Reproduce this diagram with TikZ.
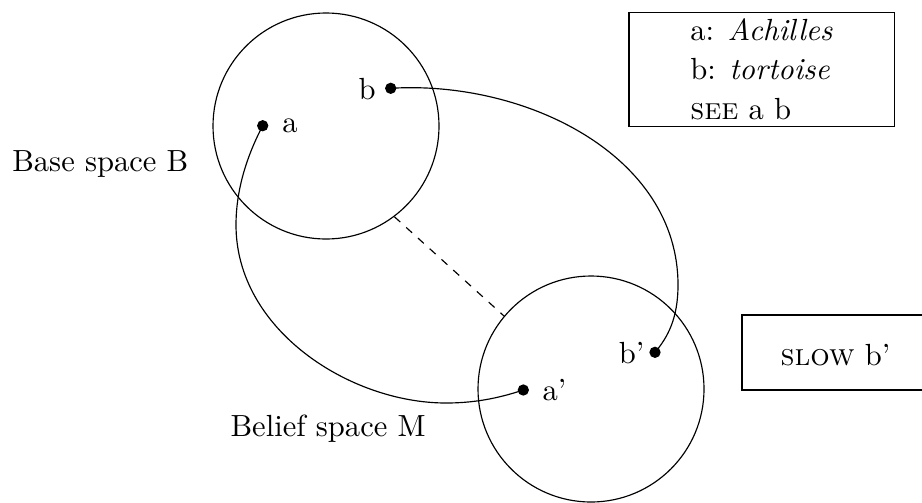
\documentclass[tikz,border=0pt]{standalone}
\begin{document}
\begin{tikzpicture}[x=0.327pt,y=-0.327pt,line width=0.38pt,
  space/.style={circle,draw,inner sep=0pt,minimum size=73.9pt},
  dotpt/.style={circle,fill,inner sep=0pt,minimum size=3.7pt},
  lbl/.style={inner sep=0pt,anchor=base west},
  dashline/.style={dash pattern=on 2.6pt off 2.6pt}]
\useasboundingbox (0,0) rectangle (922,502);
% spaces
\node[space] (B) at (326,126) {};
\node[space] (M) at (591,389) {};
\node[lbl] (Blabel) at (11.7,171.7) {Base space B};
\node[lbl] (Mlabel) at (230,436) {Belief space M};
% points
\node[dotpt] (a) at (262.7,125.7) {};
\node[dotpt] (b) at (390.7,88.3) {};
\node[dotpt] (ap) at (523.3,390) {};
\node[dotpt] (bp) at (655,352.3) {};
\node[lbl] (la) at (281.7,132.7) {a};
\node[lbl] (lb) at (358,99.3) {b};
\node[lbl] (lap) at (542,400) {a'};
\node[lbl] (lbp) at (618.3,363.3) {b'};
% connection lines
\coordinate (c1) at (236,225);
\coordinate (c2) at (446,403);
\coordinate (c3) at (678,285);
\draw (a.center) .. controls (250,150) and (236,185) .. (c1)
  .. controls (236,330) and (350,403) .. (c2)
  .. controls (480,403) and (505,396) .. (ap.center);
\draw (b.center) .. controls (525,80) and (678,155) .. (c3)
  .. controls (678,318) and (668,337) .. (bp.center);
\draw[dashline] (B.-53) -- (M.140);
% boxes
\node[draw,inner ysep=2pt,minimum width=86.7pt,minimum height=37.3pt,align=left] (legend) at (761.5,69.2)
  {a: \textit{Achilles}\\[0.8pt] b: \textit{tortoise}\\[0.8pt] \textsc{see} a b};
\node[lbl] (slow) at (780,365) {\textsc{slow} b'};
\coordinate (s1) at (922,315);
\coordinate (s2) at (742,315);
\coordinate (s3) at (742,390);
\coordinate (s4) at (922,390);
\draw (s1) -- (s2) -- (s3) -- (s4);
\end{tikzpicture}
\end{document}
